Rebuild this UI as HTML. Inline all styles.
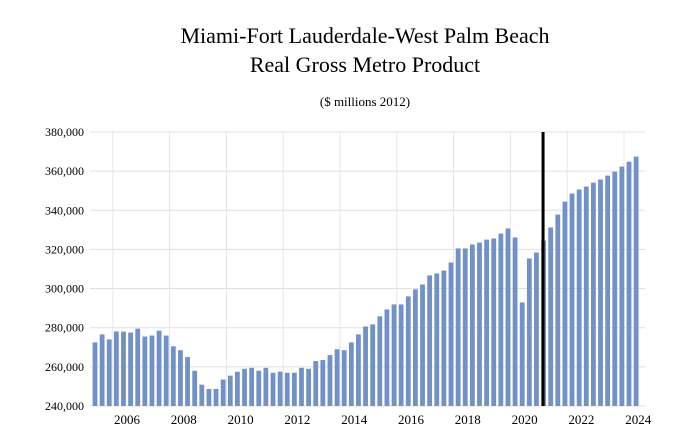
<!DOCTYPE html>
<html><head><meta charset="utf-8"><style>
body{margin:0;background:#fff;}
svg, svg text{font-family:"Liberation Serif","DejaVu Serif",serif !important;}
</style></head><body>
<svg id="chart" width="683" height="434" xmlns="http://www.w3.org/2000/svg" font-family="Liberation Serif, serif">
<text x="365" y="43" font-size="22" text-anchor="middle" font-family="Liberation Serif, serif">Miami-Fort Lauderdale-West Palm Beach</text>
<text x="365" y="72" font-size="22" text-anchor="middle" font-family="Liberation Serif, serif">Real Gross Metro Product</text>
<text x="365" y="106" font-size="13" text-anchor="middle" font-family="Liberation Serif, serif">($ millions 2012)</text>
<g id="grid"></g><g id="bars"></g><g id="axes" font-family="Liberation Serif, serif"></g>
</svg>
<script>
const values=[272.5,276.6,274,278.1,278,277.5,279.5,275.5,276,278.5,276,270.5,268.5,265,258,250.9,248.7,248.7,253.5,255.5,257.5,259,259.5,258,259.5,257,257.5,257,257,259.5,259,263,263.5,266,269,268.5,272.5,276.6,280.6,281.7,285.8,289.3,291.9,291.9,296,299.6,302.1,306.7,307.7,309.2,313.3,320.5,320.5,322.5,323.5,325,325.6,328.1,330.7,326.1,292.9,315.4,318.4,324.5,331.2,337.8,344.4,348.5,350.6,352.1,354.1,355.7,357.7,359.7,362.3,364.8,367.4];
const yTicks=[240000,260000,280000,300000,320000,340000,360000,380000];
const xLabels=[2006,2008,2010,2012,2014,2016,2018,2020,2022,2024];
const startYear=2005;
const forecastIndex=63;
const NS="http://www.w3.org/2000/svg";
const yScale=v=>406-(v-240000)/20000*39.15;
const xScale=i=>95+i*7.12;
const yearX=y=>127+(y-2006)*28.4;
function mk(t,a,p){const e=document.createElementNS(NS,t);for(const k in a)e.setAttribute(k,a[k]);document.getElementById(p).appendChild(e);return e;}
yTicks.forEach(t=>{
 const l=mk('line',{x1:90,x2:645,y1:yScale(t),y2:yScale(t),stroke:'#e0e0e0','stroke-width':1},'grid');
 
 
 const tx=mk('text',{x:84,y:yScale(t)+4,'font-size':12,'text-anchor':'end','font-family':'Liberation Serif, serif'},'axes');
 tx.textContent=t.toLocaleString('en-US');
 
 
});
xLabels.forEach(y=>{
 const g=mk('line',{x1:yearX(y)-14.2,x2:yearX(y)-14.2,y1:132,y2:406,stroke:'#e6e6e6','stroke-width':1},'grid');
 
 
 const tx=mk('text',{x:yearX(y),y:424,'font-size':13,'text-anchor':'middle','font-family':'Liberation Serif, serif'},'axes');
 tx.textContent=y;
 
 
});
values.forEach((v,i)=>{
 const y=yScale(v*1000);
 const r=mk('rect',{x:xScale(i)-2.4,y:y,width:4.8,height:406-y,fill:'#7291c7'},'bars');
 
 
});
const fl=mk('line',{x1:xScale(forecastIndex)-0.5,x2:xScale(forecastIndex)-0.5,y1:132,y2:406,stroke:'#000','stroke-width':3},'axes');


</script>
</body></html>
